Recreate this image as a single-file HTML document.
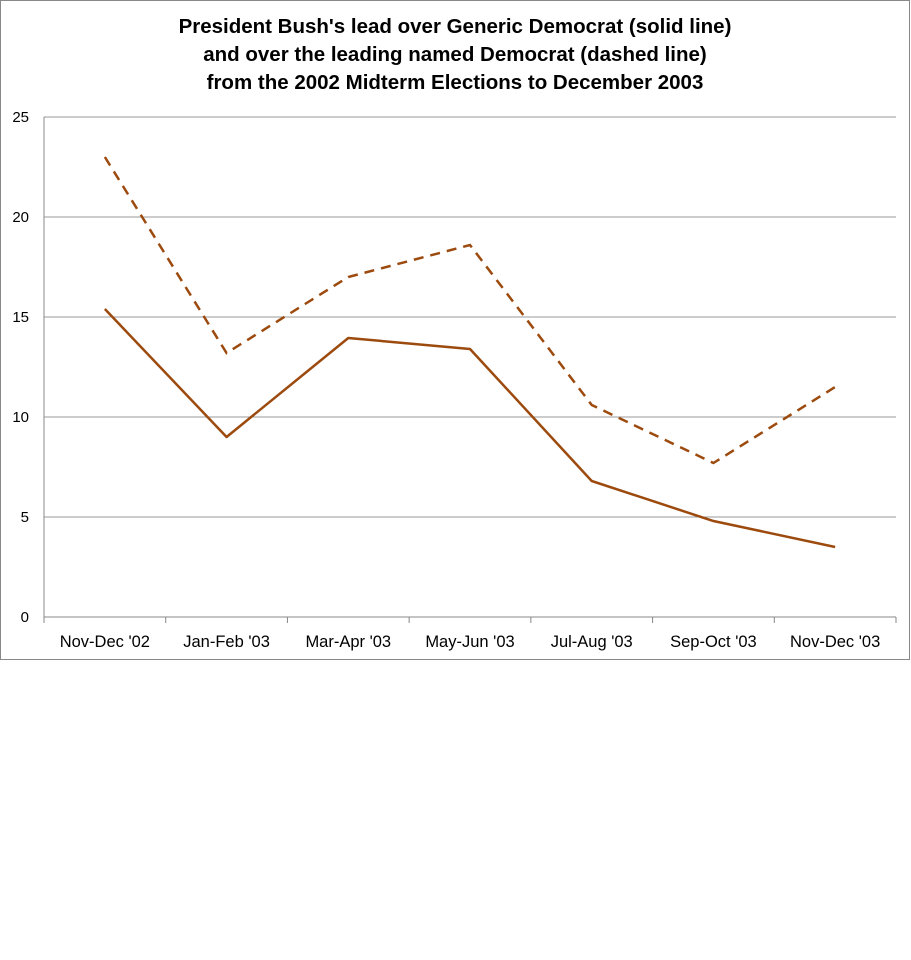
<!DOCTYPE html>
<html><head><meta charset="utf-8"><style>
body{margin:0;background:#fff;width:911px;height:960px;overflow:hidden}
svg{display:block}
text{font-family:"Liberation Sans",sans-serif}
</style></head><body>
<svg width="911" height="960">
<rect x="0.5" y="0.5" width="909" height="659" fill="#fff" stroke="#888"/>
<g font-size="20.5" font-weight="bold" text-anchor="middle" fill="#000">
<text x="455" y="33">President Bush's lead over Generic Democrat (solid line)</text>
<text x="455" y="61">and over the leading named Democrat (dashed line)</text>
<text x="455" y="89">from the 2002 Midterm Elections to December 2003</text>
</g>
<g id="grid"></g><g id="axes"></g><g id="series"></g>
</svg>
<script>
const categories=["Nov-Dec '02","Jan-Feb '03","Mar-Apr '03","May-Jun '03","Jul-Aug '03","Sep-Oct '03","Nov-Dec '03"];
const genericLead=[15.4,9.0,13.95,13.4,6.8,4.8,3.5];
const namedLead=[23.0,13.2,17.0,18.6,10.6,7.7,11.5];
const yTicks=[0,5,10,15,20,25];
const NS="http://www.w3.org/2000/svg";
const L=44,R=896,T=117,B=617,yMax=25;
const y=v=>B-(v/yMax)*(B-T);
const step=(R-L)/categories.length;
const x=i=>L+step*(i+0.5);
function mk(tag,attrs,parent,txt){const e=document.createElementNS(NS,tag);for(const k in attrs)e.setAttribute(k,attrs[k]);if(txt!==undefined)e.textContent=txt;document.getElementById(parent).appendChild(e);return e;}
yTicks.forEach(t=>{
 const g=mk('line',{x1:L,x2:R,y1:y(t),y2:y(t),stroke:t===0?'#888':'#999','stroke-width':1},'grid');
 
 
 const tx=mk('text',{x:L-15,y:y(t)+5,'text-anchor':'end','font-size':15,fill:'#000'},'axes',String(t));
 
 
});
const ya=mk('line',{x1:L,x2:L,y1:T,y2:B,stroke:'#888'},'axes');


for(let i=0;i<=categories.length;i++){
 const tk=mk('line',{x1:L+step*i,x2:L+step*i,y1:B,y2:B+6,stroke:'#888'},'axes');
 
 
}
categories.forEach((c,i)=>{
 const t=mk('text',{x:x(i),y:B+30,'text-anchor':'middle','font-size':16.5,fill:'#000'},'axes',c);
 
 
});
const pts=a=>a.map((v,i)=>x(i)+','+y(v)).join(' ');
const s1=mk('polyline',{points:pts(genericLead),fill:'none',stroke:'#9c4a0e','stroke-width':2.5,'stroke-linejoin':'round'},'series');


const s2=mk('polyline',{points:pts(namedLead),fill:'none',stroke:'#9c4a0e','stroke-width':2.5,'stroke-dasharray':'10,7'},'series');


</script>
</body></html>
